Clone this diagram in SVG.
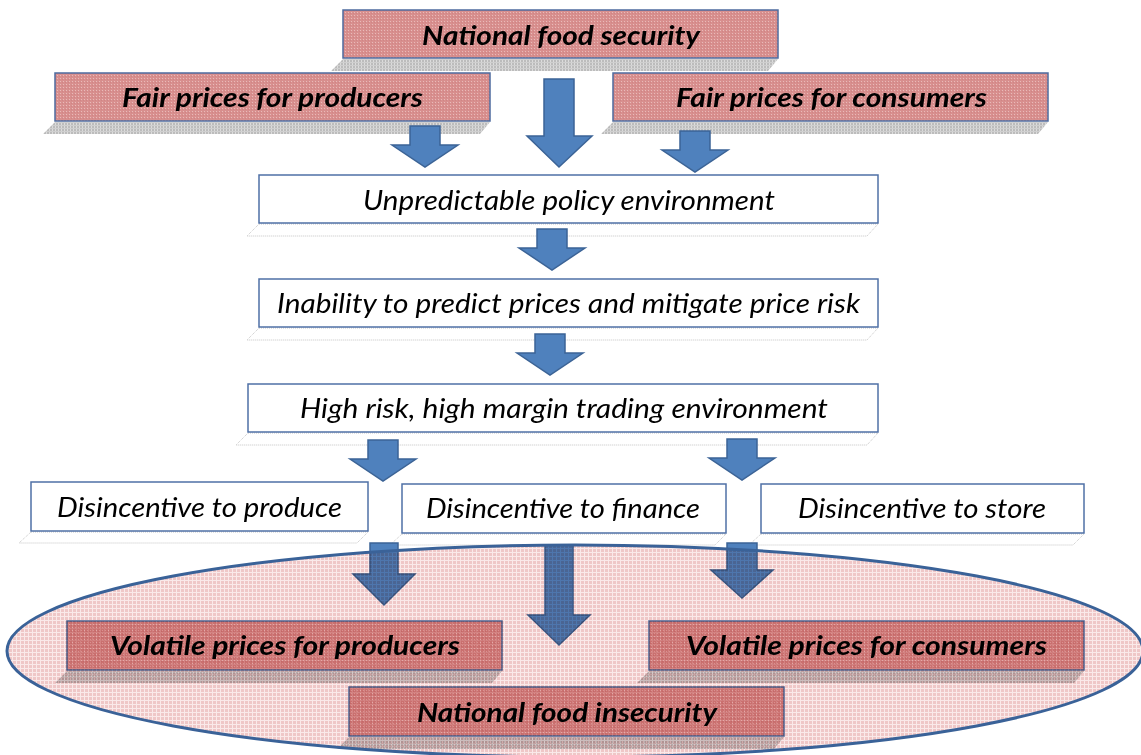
<svg xmlns="http://www.w3.org/2000/svg" width="1141" height="755" viewBox="0 0 1141 755">
  <defs>
    <!-- textured fills -->
    <pattern id="redTex" width="3" height="3" patternUnits="userSpaceOnUse">
      <rect width="3" height="3" fill="#d88f8e"/>
      <rect x="0" y="0" width="1" height="1" fill="#e9bab9"/>
      <rect x="2" y="1" width="1" height="1" fill="#d08585"/>
    </pattern>
    <pattern id="greyTex" width="3" height="3" patternUnits="userSpaceOnUse">
      <rect width="3" height="3" fill="#bcbcbc"/>
      <rect x="1" y="0" width="1" height="3" fill="#dcdcdc"/>
      <rect x="0" y="2" width="3" height="1" fill="#cfcfcf"/>
    </pattern>
    <pattern id="pinkTex" width="4" height="4" patternUnits="userSpaceOnUse">
      <rect width="4" height="4" fill="#efc7c7"/>
      <rect x="0" y="0" width="4" height="1" fill="#fae9e9"/>
      <rect x="0" y="0" width="1" height="4" fill="#fae9e9"/>
    </pattern>
    <!-- block arrow pointing down, tip at origin -->
    <path id="arrowSmall" d="M-15,-41 H15 V-22 H33 L0,0 L-33,-22 H-15 Z"/>
  </defs>
  <style>
    .red { fill: url(#redTex); stroke: #4d6b9f; stroke-width: 1.5; }
    .white { fill: #ffffff; stroke: #4f70a6; stroke-width: 1.5; }
    .sh-red { fill: url(#greyTex); }
    .sh-white { fill: none; stroke: #c4c4c4; stroke-width: 1; stroke-dasharray: 1 1; }
    .arrow { fill: #4f81bd; stroke: #3b6396; stroke-width: 1.5; stroke-linejoin: miter; }
    .t { font-family: Lato, "Open Sans", "DejaVu Sans", sans-serif; font-style: italic; font-size: 26.5px; fill: #000000; text-anchor: middle; }
    .b { font-weight: bold; }
    .zone { fill: url(#pinkTex); stroke: none; mix-blend-mode: multiply; }
    .zone-edge { fill: none; stroke: #3a6298; stroke-width: 3; }
  </style>

  <!-- drop shadows -->
  <g id="shadows">
    <polygon class="sh-red" points="343,59 778,59 768,71 331,71"/>
    <polygon class="sh-red" points="55,122 490,122 480,134 43,134"/>
    <polygon class="sh-red" points="613,122 1048,122 1038,134 601,134"/>
    <polygon class="sh-white" points="259,224 878,224 867,236 247,236"/>
    <polygon class="sh-white" points="259,328 878,328 867,340 247,340"/>
    <polygon class="sh-white" points="248,433 878,433 867,445 236,445"/>
    <polygon class="sh-white" points="31,532 368,532 357,543 19,543"/>
    <polygon class="sh-white" points="402,534 726,534 715,545 390,545"/>
    <polygon class="sh-white" points="761,534 1084,534 1073,545 749,545"/>
    <polygon class="sh-red" points="67,671 502,671 492,683 55,683"/>
    <polygon class="sh-red" points="649,671 1084,671 1074,683 637,683"/>
    <polygon class="sh-red" points="349,737 784,737 774,749 337,749"/>
  </g>

  <!-- goals at the top -->
  <g id="national-food-security">
    <rect class="red" x="343" y="10" width="435" height="48"/>
    <text class="t b" x="561" y="45" textLength="278" lengthAdjust="spacingAndGlyphs">National food security</text>
  </g>
  <g id="fair-prices-producers">
    <rect class="red" x="55" y="73" width="435" height="48"/>
    <text class="t b" x="272.5" y="107" textLength="301" lengthAdjust="spacingAndGlyphs">Fair prices for producers</text>
  </g>
  <g id="fair-prices-consumers">
    <rect class="red" x="613" y="73" width="435" height="48"/>
    <text class="t b" x="831.5" y="107" textLength="311" lengthAdjust="spacingAndGlyphs">Fair prices for consumers</text>
  </g>

  <!-- causal chain -->
  <g id="unpredictable-policy">
    <rect class="white" x="259" y="175" width="619" height="48"/>
    <text class="t" x="569" y="210" textLength="412" lengthAdjust="spacingAndGlyphs">Unpredictable policy environment</text>
  </g>
  <g id="inability-to-predict">
    <rect class="white" x="259" y="279" width="619" height="48"/>
    <text class="t" x="568.5" y="313" textLength="583" lengthAdjust="spacingAndGlyphs">Inability to predict prices and mitigate price risk</text>
  </g>
  <g id="high-risk-trading">
    <rect class="white" x="248" y="384" width="630" height="48"/>
    <text class="t" x="564" y="418" textLength="528" lengthAdjust="spacingAndGlyphs">High risk, high margin trading environment</text>
  </g>
  <g id="disincentive-produce">
    <rect class="white" x="31" y="482" width="337" height="49"/>
    <text class="t" x="199.5" y="517" textLength="285" lengthAdjust="spacingAndGlyphs">Disincentive to produce</text>
  </g>
  <g id="disincentive-finance">
    <rect class="white" x="402" y="484" width="324" height="49"/>
    <text class="t" x="563" y="518" textLength="274" lengthAdjust="spacingAndGlyphs">Disincentive to finance</text>
  </g>
  <g id="disincentive-store">
    <rect class="white" x="761" y="484" width="323" height="49"/>
    <text class="t" x="922" y="518" textLength="248" lengthAdjust="spacingAndGlyphs">Disincentive to store</text>
  </g>

  <!-- outcomes -->
  <g id="volatile-producers">
    <rect class="red" x="67" y="621" width="435" height="49"/>
    <text class="t b" x="285" y="655" textLength="350" lengthAdjust="spacingAndGlyphs">Volatile prices for producers</text>
  </g>
  <g id="volatile-consumers">
    <rect class="red" x="649" y="621" width="435" height="49"/>
    <text class="t b" x="866.5" y="655" textLength="361" lengthAdjust="spacingAndGlyphs">Volatile prices for consumers</text>
  </g>
  <g id="national-food-insecurity">
    <rect class="red" x="349" y="687" width="435" height="49"/>
    <text class="t b" x="567" y="722" textLength="300" lengthAdjust="spacingAndGlyphs">National food insecurity</text>
  </g>

  <!-- block arrows -->
  <g id="connectors">
    <use href="#arrowSmall" class="arrow" transform="translate(425,167)"/>
    <path class="arrow" d="M544,79 H574 V136 H592 L559,167 L527,136 H544 Z"/>
    <use href="#arrowSmall" class="arrow" transform="translate(695,172)"/>
    <use href="#arrowSmall" class="arrow" transform="translate(552,270)"/>
    <use href="#arrowSmall" class="arrow" transform="translate(550,375)"/>
    <use href="#arrowSmall" class="arrow" transform="translate(383,481)"/>
    <use href="#arrowSmall" class="arrow" transform="translate(742,480)"/>
    <path class="arrow" d="M370,543 H398 V574 H415 L384,605 L353,574 H370 Z"/>
    <path class="arrow" d="M545,545 H573 V615 H590 L559,645 L528,615 H545 Z"/>
    <path class="arrow" d="M727,543 H757 V570 H773 L742,598 L711,570 H727 Z"/>
  </g>

  <!-- tinted oval enclosing the outcomes -->
  <g id="insecurity-zone">
    <ellipse class="zone" cx="575" cy="651" rx="568" ry="106"/>
    <ellipse class="zone-edge" cx="575" cy="651" rx="568" ry="106"/>
  </g>
</svg>
